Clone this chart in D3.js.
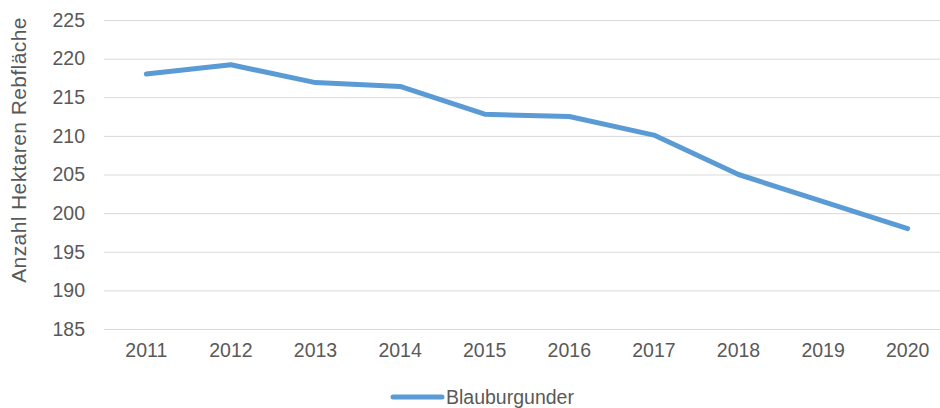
<!DOCTYPE html>
<html>
<head>
<meta charset="utf-8">
<script src="https://cdn.jsdelivr.net/npm/d3@7"></script>
<style>
  body { margin: 0; background: #fff; }
  svg { display: block; font-family: "Liberation Sans", Arial, sans-serif; }
</style>
</head>
<body>
<div id="chart"></div>
<script>
// data
var years = ["2011", "2012", "2013", "2014", "2015", "2016", "2017", "2018", "2019", "2020"];
var hectares = [218.0, 219.2, 216.9, 216.4, 212.8, 212.5, 210.1, 205.0, 201.5, 198.0];
var yTicks = [185, 190, 195, 200, 205, 210, 215, 220, 225];
var seriesName = "Blauburgunder";

// set the dimensions and margins of the graph
var W = 940, H = 408;
var margin = {top: 20, right: -10, bottom: 79, left: 104},
    width = W - margin.left - margin.right,
    height = H - margin.top - margin.bottom;

var x = d3.scaleBand()
          .domain(years)
          .range([0, width]);
var y = d3.scaleLinear()
          .domain([185, 225])
          .range([height, 0]);

var svg = d3.select("#chart").append("svg")
    .attr("width", W)
    .attr("height", H);

var g = svg.append("g")
    .attr("transform", "translate(" + margin.left + "," + margin.top + ")");

// gridlines
g.append("g")
    .call(d3.axisLeft(y).tickValues(yTicks).tickSize(-width).tickFormat(""))
    .call(a => a.select(".domain").remove())
    .call(a => a.selectAll("line").attr("stroke", "#d9d9d9").attr("stroke-width", 1));

// y axis labels
g.append("g")
    .attr("transform", "translate(-16,0)")
    .call(d3.axisLeft(y).tickValues(yTicks).tickSize(0))
    .call(a => a.select(".domain").remove())
    .call(a => a.selectAll("text")
        .attr("fill", "#595959")
        .style("font-size", "19.5px")
        .style("font-family", "Liberation Sans, Arial, sans-serif"));

// x axis labels
g.append("g")
    .attr("transform", "translate(0," + height + ")")
    .call(d3.axisBottom(x).tickSize(0).tickPadding(14))
    .call(a => a.select(".domain").remove())
    .call(a => a.selectAll("text")
        .attr("fill", "#595959")
        .style("font-size", "19.5px")
        .style("font-family", "Liberation Sans, Arial, sans-serif"));

// y axis title
svg.append("text")
    .attr("transform", "translate(26," + (margin.top + 130) + ") rotate(-90)")
    .attr("text-anchor", "middle")
    .attr("fill", "#595959")
    .style("font-size", "21px")
    .style("letter-spacing", "0.4px")
    .text("Anzahl Hektaren Rebfläche");

// the line
var line = d3.line()
    .x((d, i) => x(years[i]) + x.bandwidth() / 2)
    .y(d => y(d));

g.append("path")
    .datum(hectares)
    .attr("fill", "none")
    .attr("stroke", "#5b9bd5")
    .attr("stroke-width", 5)
    .attr("stroke-linejoin", "round")
    .attr("stroke-linecap", "round")
    .attr("d", line);

// legend
var legend = svg.append("g").attr("transform", "translate(393,397)");
legend.append("line")
    .attr("x1", 0).attr("x2", 49)
    .attr("stroke", "#5b9bd5")
    .attr("stroke-width", 5)
    .attr("stroke-linecap", "round");
legend.append("text")
    .attr("x", 53)
    .attr("dy", "0.35em")
    .attr("fill", "#595959")
    .style("font-size", "19.5px")
    .text(seriesName);
</script>
</body>
</html>
